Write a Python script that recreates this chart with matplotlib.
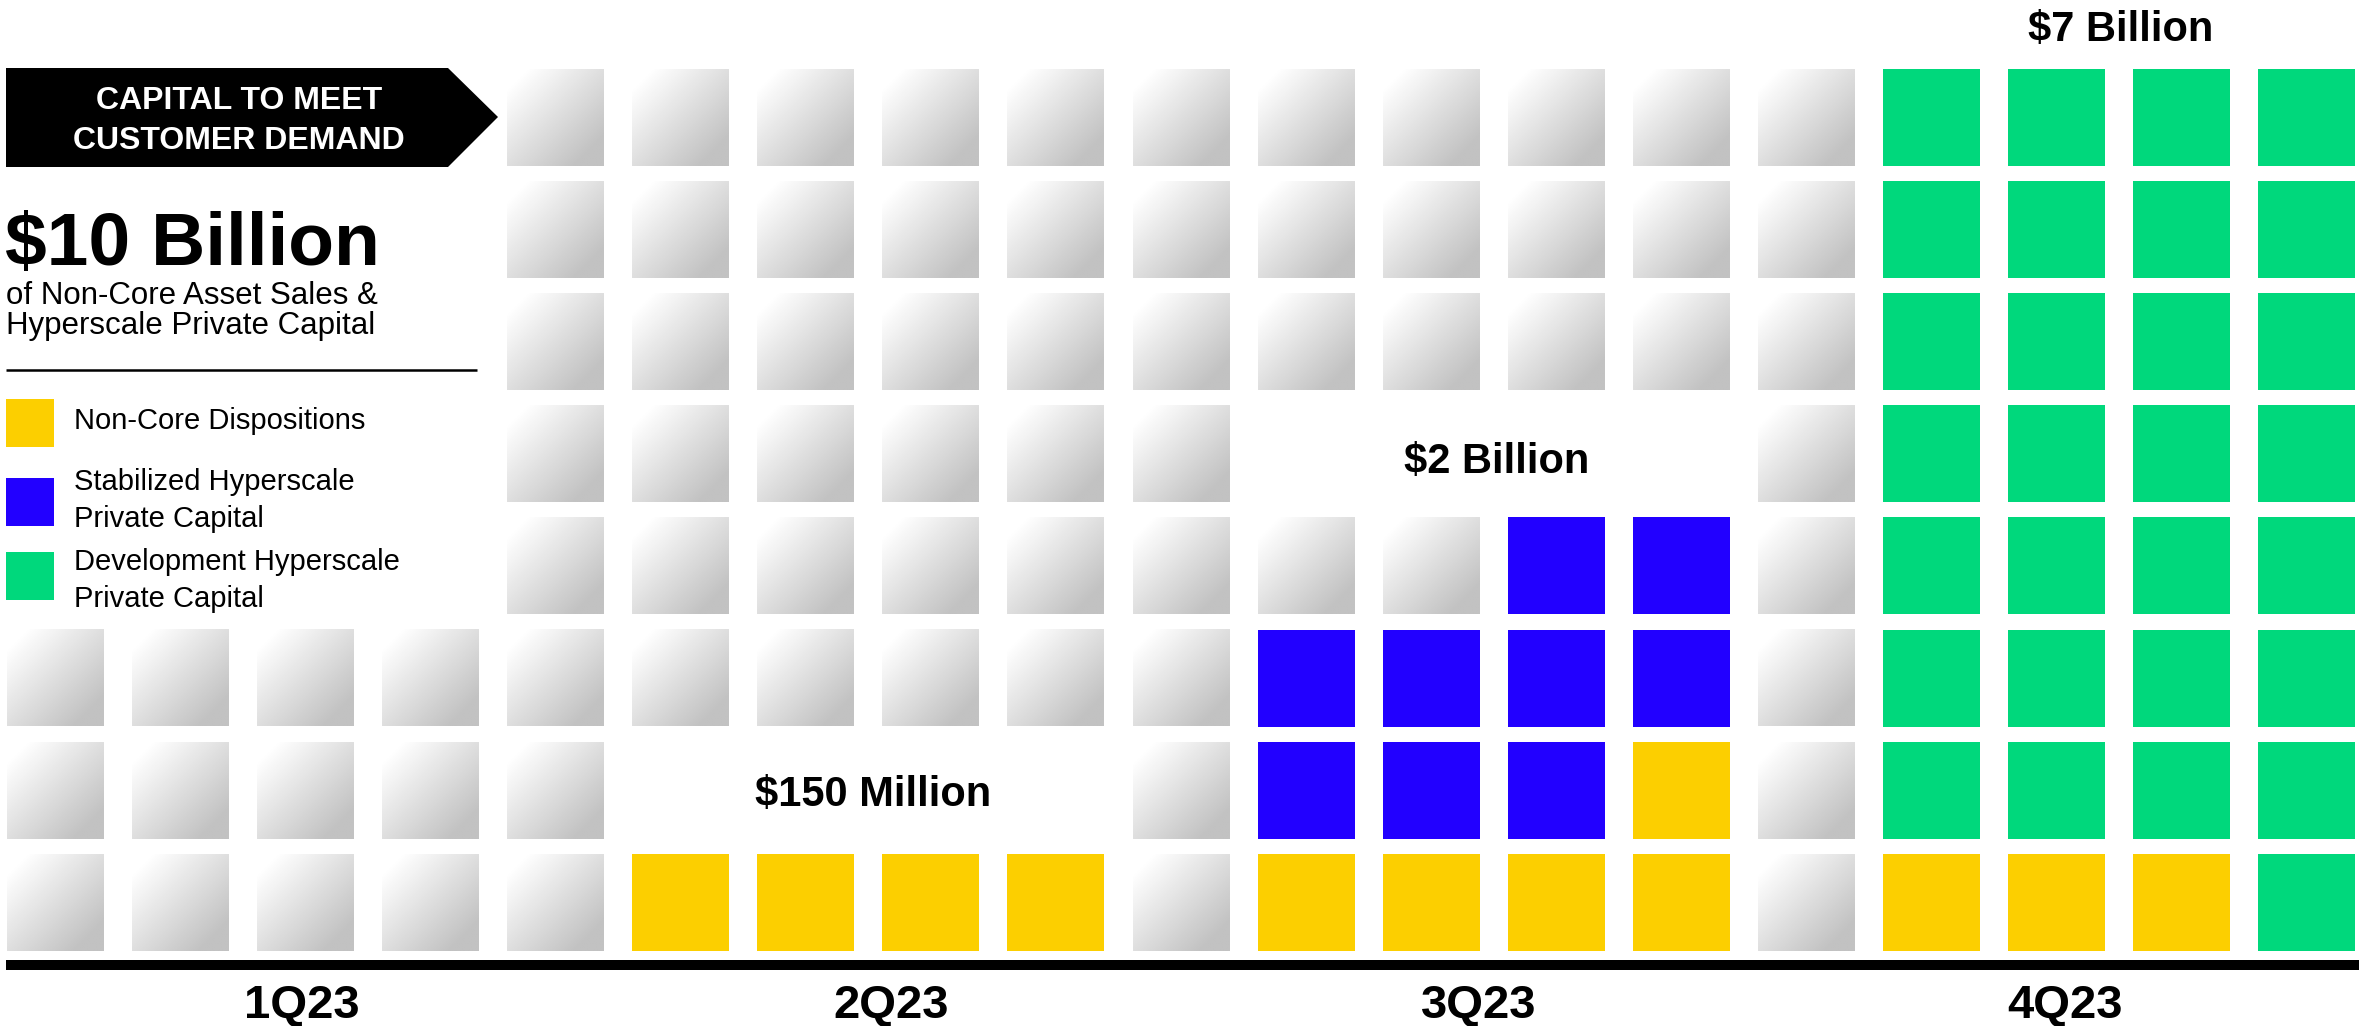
import numpy as np
import matplotlib
matplotlib.use("Agg")
import matplotlib.pyplot as plt
from matplotlib.patches import Rectangle, Polygon

plt.rcParams['font.family'] = ['Liberation Sans', 'DejaVu Sans']

# data: one string per row (top to bottom), one char per column
# G = not yet raised (grey), Y = non-core, B = stabilized, N = development, . = empty
grid_rows = [
    "....GGGGGGGGGGGNNNN",
    "....GGGGGGGGGGGNNNN",
    "....GGGGGGGGGGGNNNN",
    "....GGGGGG....GNNNN",
    "....GGGGGGGGBBGNNNN",
    "GGGGGGGGGGBBBBGNNNN",
    "GGGGG....GBBBYGNNNN",
    "GGGGGYYYYGYYYYGYYYN",
]
quarters = ['1Q23', '2Q23', '3Q23', '4Q23']
quarter_amounts = ['', '$150 Million', '$2 Billion', '$7 Billion']
legend_codes = ['Y', 'B', 'N']
legend_labels = ['Non-Core Dispositions',
                 'Stabilized Hyperscale\nPrivate Capital',
                 'Development Hyperscale\nPrivate Capital']
total_label = '$10 Billion'
subtitle = ['of Non-Core Asset Sales &', 'Hyperscale Private Capital']
banner = ['CAPITAL TO MEET', 'CUSTOMER DEMAND']

colors = {'Y': '#FCCF00', 'B': '#2200FF', 'N': '#00D87C'}

W, H = 2374, 1026
fig = plt.figure(figsize=(W / 100, H / 100), dpi=100)
ax = fig.add_axes([0, 0, 1, 1])

# grid geometry (pixels)
x0, dx = 7, 125.06
y0, dy = 69, 112.1
sq = 97

# diagonal gradient for grey tiles
n = 64
u, w = np.meshgrid(np.linspace(0, 1, n), np.linspace(0, 1, n))
t = np.clip(((u + w) / 2 - 0.1) / 0.75, 0, 1)
grad = 1 - 0.24 * t

for r, row in enumerate(grid_rows):
    for c, code in enumerate(row):
        x = x0 + c * dx
        y = y0 + r * dy
        if code == 'G':
            ax.imshow(grad, extent=(x, x + sq, y + sq, y), cmap='gray', vmin=0, vmax=1,
                      interpolation='bilinear', aspect='auto', zorder=2)
        elif code in colors:
            ax.add_patch(Rectangle((x, y), sq, sq, facecolor=colors[code], edgecolor='none', zorder=2))

ax.set_xlim(0, W)
ax.set_ylim(H, 0)
ax.axis('off')

# baseline bar and quarter labels
ax.add_patch(Rectangle((6, 960), 2353, 10, facecolor='black', edgecolor='none', zorder=3))
label_cols = [1.97, 6.68, 11.38, 16.07]
amount_pos = [None, (873, 806), (1497, 473), (2121, 41)]
for q, lc, amt, pos in zip(quarters, label_cols, quarter_amounts, amount_pos):
    ax.text(x0 + lc * dx + sq / 2, 1018, q, ha='center', va='baseline',
            fontsize=34, fontweight='bold', parse_math=False)
    if amt:
        ax.text(pos[0], pos[1], amt, ha='center', va='baseline',
                fontsize=30, fontweight='bold', parse_math=False)

# banner arrow
ax.add_patch(Polygon([(6, 68), (448, 68), (498, 117), (448, 167), (6, 167)],
                     closed=True, facecolor='black', edgecolor='none'))
ax.text(239, 109, banner[0], ha='center', va='baseline', color='white', fontsize=23, fontweight='bold')
ax.text(239, 149, banner[1], ha='center', va='baseline', color='white', fontsize=23, fontweight='bold')

# headline
ax.text(5, 265, total_label, ha='left', va='baseline', fontsize=54, fontweight='bold', parse_math=False)
ax.text(6, 304, subtitle[0], ha='left', va='baseline', fontsize=22.5)
ax.text(6, 334, subtitle[1], ha='left', va='baseline', fontsize=22.5)
ax.plot([6, 477], [370, 370], color='black', lw=1.8, solid_capstyle='butt')

# legend
leg_sq_y = [399, 478, 552]
leg_text_y = [429, 490, 570]
for code, lab, sy, ty in zip(legend_codes, legend_labels, leg_sq_y, leg_text_y):
    ax.add_patch(Rectangle((6, sy), 48, 48, facecolor=colors[code], edgecolor='none'))
    for k, line in enumerate(lab.split('\n')):
        ax.text(74, ty + k * 37, line, ha='left', va='baseline', fontsize=21)

fig.savefig('out.png', dpi=100, facecolor='white')
